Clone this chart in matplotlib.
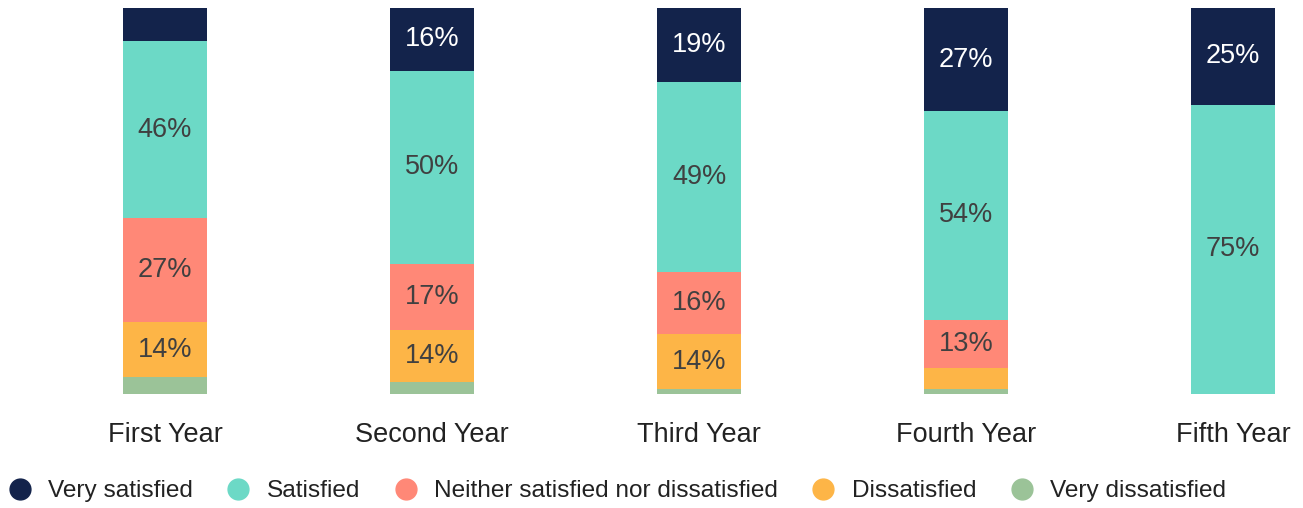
#!/usr/bin/env python
# Satisfaction by year of study, 100% stacked columns

import numpy as np
import matplotlib.pyplot as plt
from matplotlib.lines import Line2D

plt.rcParams['font.family'] = ['Liberation Sans', 'DejaVu Sans']

years = ['First Year', 'Second Year', 'Third Year', 'Fourth Year', 'Fifth Year']
categories = ['Very satisfied', 'Satisfied', 'Neither satisfied nor dissatisfied',
              'Dissatisfied', 'Very dissatisfied']

very_satisfied    = [8.5, 16.2, 19.2, 26.7, 25]
satisfied         = [46, 50.2, 49.2, 54, 75]
neither           = [26.9, 16.9, 16.1, 12.6, 0]
dissatisfied      = [14.2, 13.6, 14.2, 5.5, 0]
very_dissatisfied = [4.4, 3.1, 1.3, 1.2, 0]

colors = ['#13234b', '#6cd9c6', '#ff8877', '#fdb547', '#9bc398']
text_colors = ['white', '#404040', '#404040', '#404040', '#404040']

# stacked bottom-up, so reverse order
series = [very_dissatisfied, dissatisfied, neither, satisfied, very_satisfied]
series_colors = colors[::-1]
series_text = text_colors[::-1]

fig = plt.figure(figsize=(13.03, 5.08), dpi=100)
ax = fig.add_axes([0, 114 / 508, 1, 386 / 508])

ind = np.arange(len(years))
width = 0.315
bottom = np.zeros(len(years))
for vals, col, tcol in zip(series, series_colors, series_text):
    vals = np.array(vals, dtype=float)
    ax.bar(ind, vals, width, bottom=bottom, color=col, linewidth=0)
    for i, v in enumerate(vals):
        if v >= 10:
            ax.text(ind[i], bottom[i] + v / 2, '%d%%' % round(v), ha='center',
                    va='center', color=tcol, fontsize=19.5)
    bottom += vals

ax.set_xlim(-0.618, 4.262)
ax.set_ylim(0, 100)
ax.set_xticks(ind)
ax.set_xticklabels(years, fontsize=19.5, color='#222222')
ax.tick_params(axis='x', length=0, pad=20)
ax.set_yticks([])
for s in ax.spines.values():
    s.set_visible(False)

handles = [Line2D([], [], marker='o', linestyle='', markersize=15,
                  markerfacecolor=c, markeredgecolor=c) for c in colors]
fig.legend(handles, categories, loc='center', bbox_to_anchor=(0.4725, 17 / 508),
           ncol=5, frameon=False, fontsize=17.6, handletextpad=0.57,
           columnspacing=1.25, handlelength=1.2, labelcolor='#222222')

plt.savefig('out.png', dpi=100)
